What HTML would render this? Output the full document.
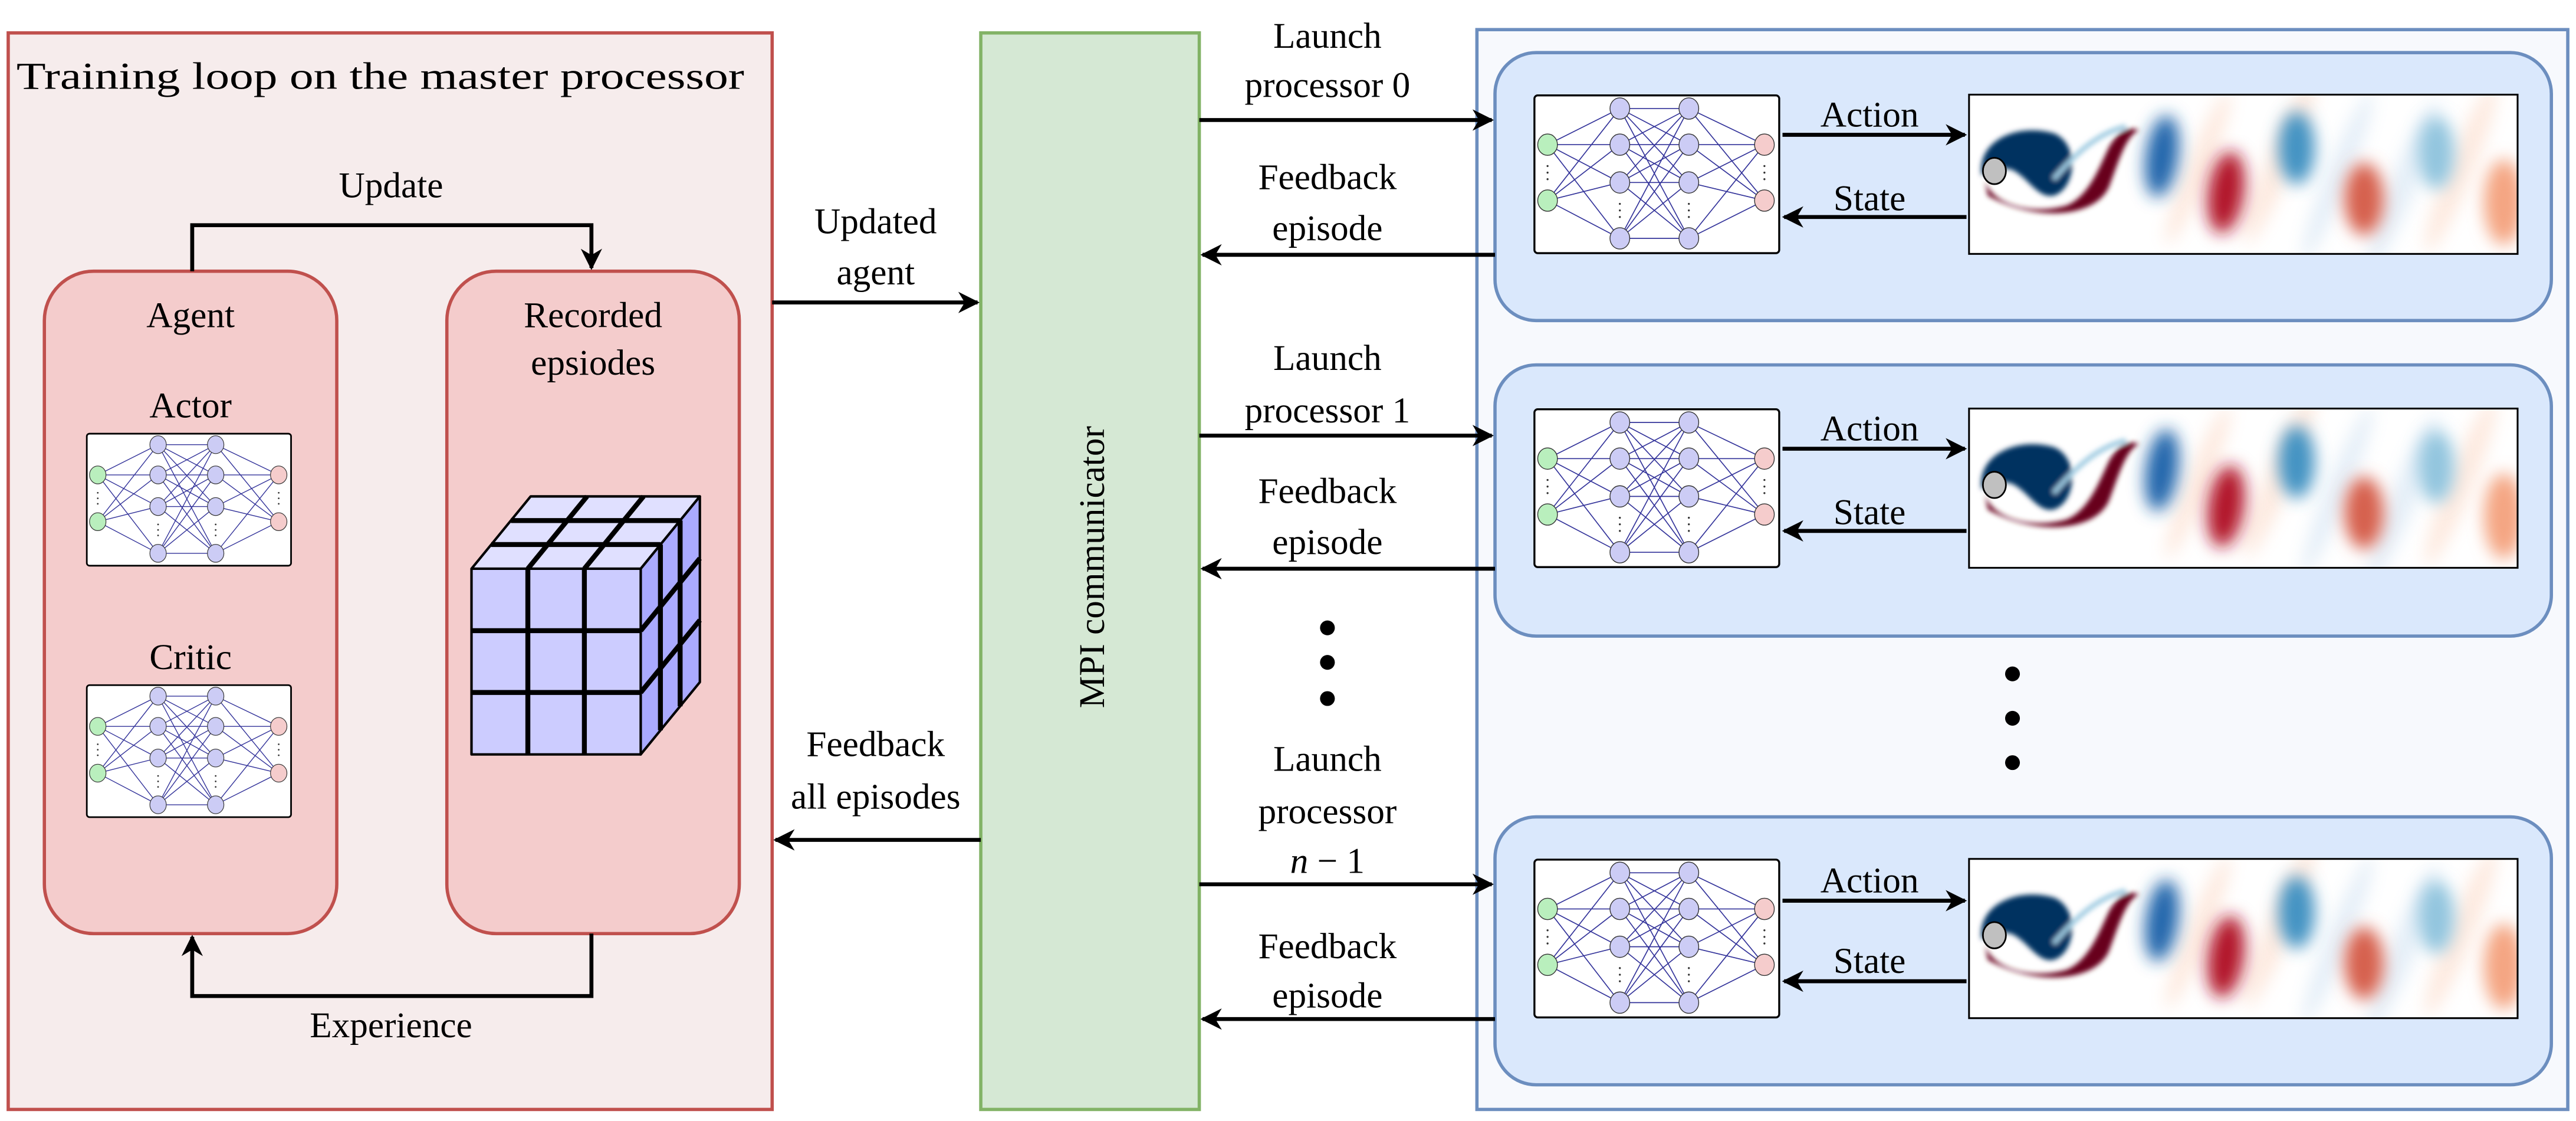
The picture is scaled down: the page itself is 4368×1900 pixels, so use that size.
<!DOCTYPE html>
<html><head><meta charset="utf-8"><style>
html,body{margin:0;padding:0;background:#fff}
svg{display:block}
text{font-family:"Liberation Serif",serif;fill:#000}
</style></head><body>
<svg width="4368" height="1900" viewBox="0 0 1568 682" xmlns="http://www.w3.org/2000/svg">
<defs>
<marker id="ab" viewBox="0 0 10 10" refX="9" refY="5" markerWidth="13" markerHeight="13" orient="auto" markerUnits="userSpaceOnUse">
<path d="M0,0 L10,5 L0,10 L3,5 Z" fill="#000"/></marker>
<symbol id="nn" viewBox="0 0 151 98" preserveAspectRatio="none">
<rect x="1" y="1" width="149" height="96" rx="2" fill="#fff" stroke="#000" stroke-width="1.2"/>
<path fill="none" stroke="#33339a" stroke-width="0.6" d="M9 31L53 9M9 31L53 31M9 31L53 54M9 31L53 88M9 65L53 9M9 65L53 31M9 65L53 54M9 65L53 88
M53 9L95 9M53 9L95 31M53 9L95 54M53 9L95 88M53 31L95 9M53 31L95 31M53 31L95 54M53 31L95 88M53 54L95 9M53 54L95 31M53 54L95 54M53 54L95 88M53 88L95 9M53 88L95 31M53 88L95 54M53 88L95 88
M95 9L141 31M95 9L141 65M95 31L141 31M95 31L141 65M95 54L141 31M95 54L141 65M95 88L141 31M95 88L141 65"/>
<g stroke="#333" stroke-width="0.5">
<ellipse cx="9" cy="31" rx="6" ry="6.5" fill="#b9efbd"/><ellipse cx="9" cy="65" rx="6" ry="6.5" fill="#b9efbd"/>
<ellipse cx="53" cy="9" rx="6" ry="6.5" fill="#ccccf5"/><ellipse cx="53" cy="31" rx="6" ry="6.5" fill="#ccccf5"/><ellipse cx="53" cy="54" rx="6" ry="6.5" fill="#ccccf5"/><ellipse cx="53" cy="88" rx="6" ry="6.5" fill="#ccccf5"/>
<ellipse cx="95" cy="9" rx="6" ry="6.5" fill="#ccccf5"/><ellipse cx="95" cy="31" rx="6" ry="6.5" fill="#ccccf5"/><ellipse cx="95" cy="54" rx="6" ry="6.5" fill="#ccccf5"/><ellipse cx="95" cy="88" rx="6" ry="6.5" fill="#ccccf5"/>
<ellipse cx="141" cy="31" rx="6" ry="6.5" fill="#f5cccc"/><ellipse cx="141" cy="65" rx="6" ry="6.5" fill="#f5cccc"/>
</g>
<g fill="#333"><circle cx="9" cy="44" r="0.6"/><circle cx="9" cy="48" r="0.6"/><circle cx="9" cy="52" r="0.6"/>
<circle cx="141" cy="44" r="0.6"/><circle cx="141" cy="48" r="0.6"/><circle cx="141" cy="52" r="0.6"/>
<circle cx="53" cy="67" r="0.6"/><circle cx="53" cy="71" r="0.6"/><circle cx="53" cy="75" r="0.6"/>
<circle cx="95" cy="67" r="0.6"/><circle cx="95" cy="71" r="0.6"/><circle cx="95" cy="75" r="0.6"/></g>
</symbol>
<filter id="bl" x="-50%" y="-50%" width="200%" height="200%"><feGaussianBlur stdDeviation="5"/></filter>
<filter id="bl2" x="-20%" y="-20%" width="140%" height="140%"><feGaussianBlur stdDeviation="1.5"/></filter>
<clipPath id="fc"><rect x="0" y="0" width="335" height="98"/></clipPath>
<symbol id="flow" viewBox="0 0 335 98" preserveAspectRatio="none">
<rect x="0" y="0" width="335" height="98" fill="#fff"/>
<g clip-path="url(#fc)">
<g filter="url(#bl)" opacity="0.45">
<ellipse cx="190" cy="40" rx="8" ry="55" fill="#fbd0b9" transform="rotate(22 190 40)"/>
<ellipse cx="265" cy="55" rx="8" ry="55" fill="#c6dbef" transform="rotate(22 265 55)"/>
<ellipse cx="140" cy="45" rx="7" ry="50" fill="#fbd0b9" transform="rotate(22 140 45)"/>
<ellipse cx="300" cy="45" rx="8" ry="55" fill="#fbd0b9" transform="rotate(22 300 45)"/>
<ellipse cx="225" cy="50" rx="7" ry="55" fill="#c6dbef" transform="rotate(22 225 50)"/>
</g>
<g filter="url(#bl)">
<ellipse cx="118" cy="38" rx="10" ry="25" fill="#2166ac" transform="rotate(8 118 38)"/>
<ellipse cx="157" cy="60" rx="11" ry="25" fill="#b2182b" transform="rotate(8 157 60)"/>
<ellipse cx="200" cy="33" rx="11" ry="22" fill="#4393c3"/>
<ellipse cx="241" cy="64" rx="12" ry="22" fill="#d6604d"/>
<ellipse cx="285" cy="36" rx="11" ry="22" fill="#92c5de"/>
<ellipse cx="326" cy="66" rx="12" ry="26" fill="#f4a582"/>
</g>
<g filter="url(#bl2)">
<path d="M8 46 C8 28 30 18 52 24 C68 30 66 58 52 62 C42 64 36 50 26 46 C18 44 12 46 8 50 Z" fill="#053061"/>
<path d="M10 52 C14 68 40 74 60 68 C74 62 80 44 86 32 C92 22 98 20 104 22 C96 26 92 40 86 56 C78 76 40 78 12 62 Z" fill="#67001f"/>
<path d="M52 52 C64 38 78 24 96 20" stroke="#9ecae1" stroke-width="3" fill="none"/>
</g>
<ellipse cx="16" cy="47" rx="7" ry="8" fill="#c0c0c0" stroke="#000" stroke-width="1"/>
</g>
<rect x="0.5" y="0.5" width="334" height="97" fill="none" stroke="#000" stroke-width="1.2"/>
</symbol>
</defs>

<rect x="5" y="20" width="465" height="655" fill="#f6ecec" stroke="#c0504d" stroke-width="2"/>
<text x="10" y="54" font-size="23" textLength="443" lengthAdjust="spacingAndGlyphs">Training loop on the master processor</text>
<rect x="27" y="165" width="178" height="403" rx="30" fill="#f4cccc" stroke="#c0504d" stroke-width="2"/>
<rect x="272" y="165" width="178" height="403" rx="30" fill="#f4cccc" stroke="#c0504d" stroke-width="2"/>
<path d="M117 165 V137 H360 V163" fill="none" stroke="#000" stroke-width="2.4" marker-end="url(#ab)"/>
<path d="M360 568 V606 H117 V570" fill="none" stroke="#000" stroke-width="2.4" marker-end="url(#ab)"/>
<g font-size="22" text-anchor="middle">
<text x="238" y="120">Update</text>
<text x="238" y="631">Experience</text>
<text x="116" y="199">Agent</text>
<text x="116" y="254">Actor</text>
<text x="116" y="407">Critic</text>
<text x="361" y="199">Recorded</text>
<text x="361" y="228">epsiodes</text>
</g>
<use href="#nn" x="52" y="263" width="126" height="82"/>
<use href="#nn" x="52" y="416" width="126" height="82"/>

<g stroke="#000" stroke-width="1.5" stroke-linejoin="round">
<polygon points="287,346 390,346 426,302 323,302" fill="#e0e0ff"/>
<polygon points="390,346 426,302 426,415 390,459" fill="#aaaaff"/>
<rect x="287" y="346" width="103" height="113" fill="#ccccff"/>
</g>
<g stroke="#000" stroke-width="3">
<line x1="321.3" y1="346" x2="321.3" y2="459"/><line x1="355.7" y1="346" x2="355.7" y2="459"/>
<line x1="287" y1="383.7" x2="390" y2="383.7"/><line x1="287" y1="421.3" x2="390" y2="421.3"/>
<line x1="299" y1="331.3" x2="402" y2="331.3"/><line x1="311" y1="316.7" x2="414" y2="316.7"/>
<line x1="321.3" y1="346" x2="357.3" y2="302"/><line x1="355.7" y1="346" x2="391.7" y2="302"/>
<line x1="402" y1="331.3" x2="402" y2="444.3"/><line x1="414" y1="316.7" x2="414" y2="429.7"/>
<line x1="390" y1="383.7" x2="426" y2="339.7"/><line x1="390" y1="421.3" x2="426" y2="377.3"/>
</g>

<rect x="597" y="20" width="133" height="655" fill="#d5e8d4" stroke="#82b366" stroke-width="2"/>
<text x="672" y="345" font-size="22" text-anchor="middle" transform="rotate(-90 672 345)">MPI communicator</text>

<line x1="470" y1="184" x2="595" y2="184" stroke="#000" stroke-width="2.4" marker-end="url(#ab)"/>
<line x1="597" y1="511" x2="472" y2="511" stroke="#000" stroke-width="2.4" marker-end="url(#ab)"/>
<g font-size="22" text-anchor="middle">
<text x="533" y="142">Updated</text>
<text x="533" y="173">agent</text>
<text x="533" y="460">Feedback</text>
<text x="533" y="492">all episodes</text>
</g>

<rect x="899" y="18" width="664" height="657" fill="#f7f9fd" stroke="#6c8ebf" stroke-width="2"/>
<rect x="910" y="32" width="643" height="163" rx="25" fill="#dae8fc" stroke="#6c8ebf" stroke-width="2"/>
<rect x="910" y="222" width="643" height="165" rx="25" fill="#dae8fc" stroke="#6c8ebf" stroke-width="2"/>
<rect x="910" y="497" width="643" height="163" rx="25" fill="#dae8fc" stroke="#6c8ebf" stroke-width="2"/>

<use href="#nn" x="933" y="57" width="151" height="98"/>
<use href="#flow" x="1198" y="57" width="335" height="98"/>
<use href="#nn" x="933" y="248" width="151" height="98"/>
<use href="#flow" x="1198" y="248" width="335" height="98"/>
<use href="#nn" x="933" y="522" width="151" height="98"/>
<use href="#flow" x="1198" y="522" width="335" height="98"/>

<g stroke="#000" stroke-width="2.4">
<line x1="1085" y1="82" x2="1196" y2="82" marker-end="url(#ab)"/>
<line x1="1197" y1="132" x2="1086" y2="132" marker-end="url(#ab)"/>
<line x1="1085" y1="273" x2="1196" y2="273" marker-end="url(#ab)"/>
<line x1="1197" y1="323" x2="1086" y2="323" marker-end="url(#ab)"/>
<line x1="1085" y1="548" x2="1196" y2="548" marker-end="url(#ab)"/>
<line x1="1197" y1="597" x2="1086" y2="597" marker-end="url(#ab)"/>
<line x1="730" y1="73" x2="908" y2="73" marker-end="url(#ab)"/>
<line x1="910" y1="155" x2="732" y2="155" marker-end="url(#ab)"/>
<line x1="730" y1="265" x2="908" y2="265" marker-end="url(#ab)"/>
<line x1="910" y1="346" x2="732" y2="346" marker-end="url(#ab)"/>
<line x1="730" y1="538" x2="908" y2="538" marker-end="url(#ab)"/>
<line x1="910" y1="620" x2="732" y2="620" marker-end="url(#ab)"/>
</g>
<g font-size="22" text-anchor="middle">
<text x="1138" y="77">Action</text>
<text x="1138" y="128">State</text>
<text x="1138" y="268">Action</text>
<text x="1138" y="319">State</text>
<text x="1138" y="543">Action</text>
<text x="1138" y="592">State</text>
<text x="808" y="29">Launch</text>
<text x="808" y="59">processor 0</text>
<text x="808" y="115">Feedback</text>
<text x="808" y="146">episode</text>
<text x="808" y="225">Launch</text>
<text x="808" y="257">processor 1</text>
<text x="808" y="306">Feedback</text>
<text x="808" y="337">episode</text>
<text x="808" y="469">Launch</text>
<text x="808" y="501">processor</text>
<text x="808" y="531" font-style="italic">n <tspan font-style="normal">− 1</tspan></text>
<text x="808" y="583">Feedback</text>
<text x="808" y="613">episode</text>
</g>
<g fill="#000">
<circle cx="808" cy="382" r="4.5"/><circle cx="808" cy="403" r="4.5"/><circle cx="808" cy="425" r="4.5"/>
<circle cx="1225" cy="410" r="4.5"/><circle cx="1225" cy="437" r="4.5"/><circle cx="1225" cy="464" r="4.5"/>
</g>
</svg>
</body></html>
